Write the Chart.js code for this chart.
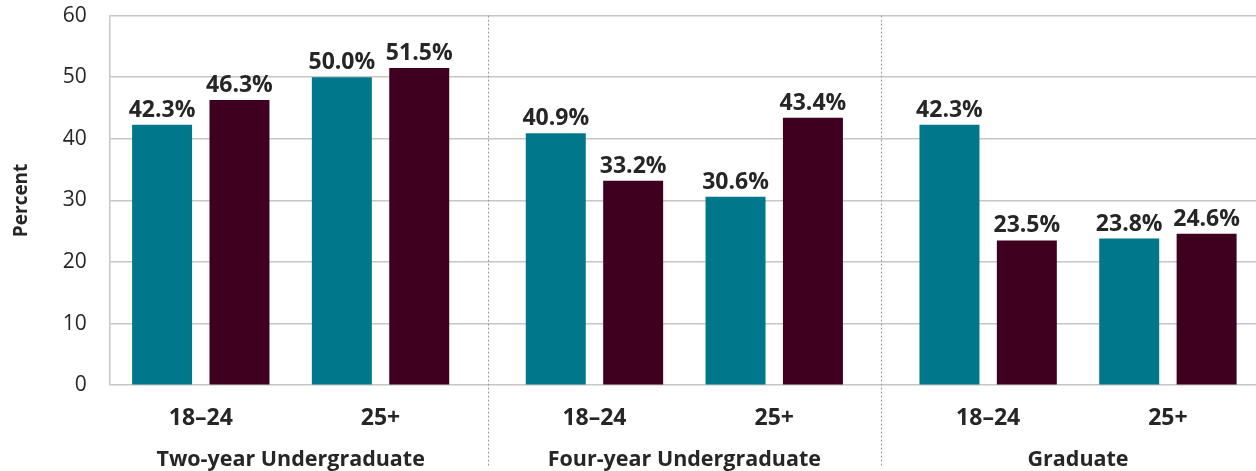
<!DOCTYPE html>
<html>
<head>
<meta charset="utf-8">
<script src="https://cdn.jsdelivr.net/npm/chart.js@4/dist/chart.umd.min.js"></script>
<style>
	html, body { margin: 0; padding: 0; background: #fff; }
	#wrap { width: 1256px; height: 471px; }
</style>
</head>
<body>
<div id="wrap"><canvas id="chart"></canvas></div>
<script>
// Chart values
const groups = ['Two-year Undergraduate', 'Four-year Undergraduate', 'Graduate'];
const ageBands = ['18–24', '25+'];
const seriesA = [42.3, 50.0, 40.9, 30.6, 42.3, 23.8];
const seriesB = [46.3, 51.5, 33.2, 43.4, 23.5, 24.6];
const yTicks = [0, 10, 20, 30, 40, 50, 60];

// Layout: extra space between groups, in category units
const groupGap = 0.19;
const slotX = (i) => Math.floor(i / ageBands.length) * (ageBands.length + groupGap) + (i % ageBands.length);
const slots = seriesA.map((_, i) => slotX(i));
const groupCenters = groups.map((_, g) => (slotX(g * 2) + slotX(g * 2 + 1)) / 2);
const separators = groups.slice(1).map((_, g) => (slotX(g * 2 + 1) + slotX(g * 2 + 2)) / 2);

const textColor = '#262626';
const gridColor = '#c6c6c6';
const font = '"Open Sans"';

const valueLabels = {
	id: 'valueLabels',
	afterDatasetsDraw(chart) {
		const {ctx} = chart;
		ctx.save();
		ctx.font = `bold 23px ${font}`;
		ctx.fillStyle = textColor;
		ctx.textAlign = 'center';
		ctx.textBaseline = 'bottom';
		chart.data.datasets.forEach((ds, di) => {
			chart.getDatasetMeta(di).data.forEach((bar, i) => {
				ctx.fillText(`${ds.data[i].y.toFixed(1)}%`, bar.x, bar.y - 3);
			});
		});
		ctx.restore();
	},
};

const groupSeparators = {
	id: 'groupSeparators',
	afterDraw(chart) {
		const {ctx, chartArea} = chart;
		const x = chart.scales.x;
		ctx.save();
		ctx.strokeStyle = '#9a9a9a';
		ctx.lineWidth = 1;
		ctx.setLineDash([2, 2]);
		for (const s of separators) {
			const px = Math.round(x.getPixelForValue(s)) + 0.5;
			ctx.beginPath();
			ctx.moveTo(px, chartArea.top);
			ctx.lineTo(px, chart.height - 4);
			ctx.stroke();
		}
		ctx.restore();
	},
};

const xMin = -0.506;
const xMax = 5.87;

new Chart(document.querySelector('#chart'), {
	type: 'bar',
	data: {
		datasets: [
			{
				label: 'A',
				data: seriesA.map((v, i) => ({x: slots[i], y: v})),
				backgroundColor: '#00778b',
			},
			{
				label: 'B',
				data: seriesB.map((v, i) => ({x: slots[i], y: v})),
				backgroundColor: '#3f0020',
			},
		],
	},
	options: {
		responsive: true,
		maintainAspectRatio: false,
		animation: false,
		categoryPercentage: 0.861,
		barPercentage: 0.775,
		layout: {padding: {top: 0, right: 0, bottom: -2, left: 4}},
		plugins: {legend: {display: false}, tooltip: {enabled: false}},
		scales: {
			x: {
				type: 'linear',
				min: xMin,
				max: xMax,
				offset: false,
				bounds: 'data',
				grid: {display: false},
				border: {display: false},
				afterBuildTicks: (scale) => { scale.ticks = slots.map((v) => ({value: v})); },
				ticks: {
					autoSkip: false,
					maxRotation: 0,
					padding: 14,
					color: textColor,
					font: {family: font, size: 23, weight: 'bold', lineHeight: 1},
					callback: (v, i) => ageBands[i % ageBands.length],
				},
			},
			x2: {
				type: 'linear',
				position: 'bottom',
				weight: 1,
				min: xMin,
				max: xMax,
				offset: false,
				bounds: 'data',
				grid: {display: false, tickLength: 3},
				border: {display: false},
				afterBuildTicks: (scale) => { scale.ticks = groupCenters.map((v) => ({value: v})); },
				ticks: {
					autoSkip: false,
					maxRotation: 0,
					padding: 0,
					color: textColor,
					font: {family: font, size: 21.5, weight: 'bold'},
					callback: (v, i) => groups[i],
				},
			},
			y: {
				min: 0,
				max: 60,
				afterBuildTicks: (scale) => { scale.ticks = yTicks.map((v) => ({value: v})); },
				grid: {color: gridColor, lineWidth: 1.5, drawTicks: true, tickLength: 20, tickColor: 'rgba(0,0,0,0)'},
				border: {display: true, color: gridColor, width: 1.5},
				ticks: {
					padding: 3,
					color: textColor,
					font: {family: font, size: 21},
				},
				title: {
					display: true,
					text: 'Percent',
					color: textColor,
					padding: {top: 6, bottom: 27},
					font: {family: font, size: 19, weight: 'bold'},
				},
			},
		},
	},
	plugins: [valueLabels, groupSeparators],
});
</script>
</body>
</html>
